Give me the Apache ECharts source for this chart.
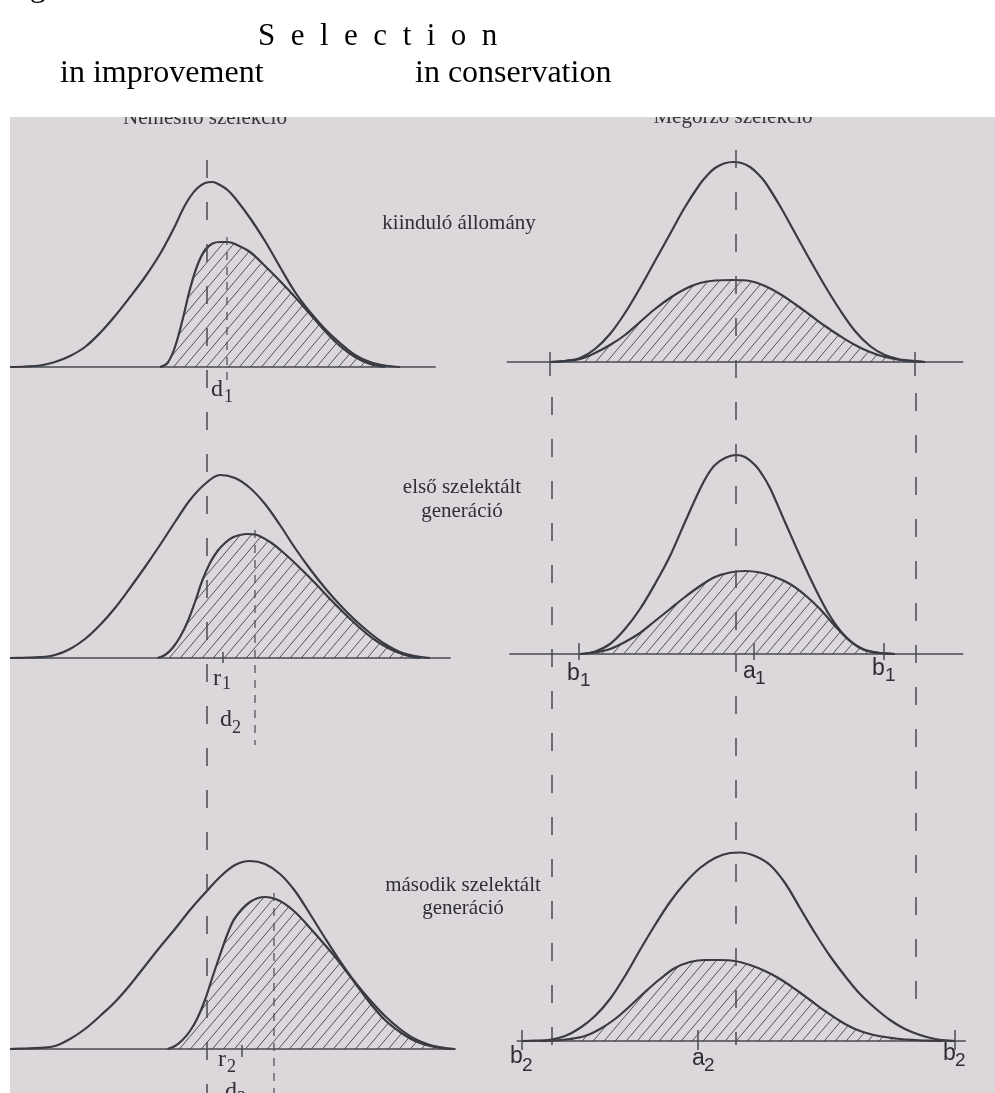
<!DOCTYPE html>
<html>
<head>
<meta charset="utf-8">
<script src="https://cdn.jsdelivr.net/npm/echarts@6/dist/echarts.min.js"></script>
<style>
html, body { margin: 0; padding: 0; background: #fff; }
#chart { width: 995px; height: 1093px; }
</style>
</head>
<body>
<div id="chart"></div>
<script>
// x: trait value in units (5 px each), y: frequency (px above the baseline)
// left column = "Nemesítő szelekció", right column = "Megőrző szelekció"

var l1Outer = [[0,0],[3,0.5],[6,1.5],[9,5],[12,11],[15,20],[18,34],[21,51],[24,70],[27,90],[30,113],[33,141],[34.5,157],[36,170],[37.5,179],[39,184],[40.5,185],[42,182],[43.5,177],[45,169],[48,149],[51,126],[54,100],[57,75],[60,55],[63,38],[66,24],[69,12],[72,5],[75,1.5],[78,0]];
var l1Inner = [[30,0],[31.5,4],[33,20],[34.5,47],[36,78],[37.5,102],[39,117],[40.5,123.5],[42,125],[43.5,125],[45,123],[48,115],[51,101],[54,86],[57,70],[60,53],[63,36],[66,21],[69,10],[72,3],[75,0]];

var l2Outer = [[0,0],[3,0.3],[6,0.8],[9,3],[12,9],[15,19],[18,33],[21,50],[24,70],[27,91],[30,113],[33,136],[36,158],[39,174],[42,183],[45,180],[48,170],[51,154],[54,133],[57,110],[60,89],[63,70],[66,53],[69,38],[72,25],[75,14],[78,6],[81,2],[84,0]];
var l2Inner = [[29.5,0],[31,3],[32.5,10],[34,21],[35.5,36],[37,56],[38.5,78],[40,95],[41.5,107],[43,115],[44.5,120.5],[46,123],[47.5,124],[49,123.5],[52,116],[55,104],[58,90],[61,75],[64,59],[67,44],[70,30],[73,18],[76,9],[79,3],[82,0]];

var l3Outer = [[0,0],[3,0.5],[6,1.2],[9,3],[12,10],[15,20],[18,33],[21,47],[24,64],[27,83],[30,102],[33,120],[36,139],[39,156],[42,172],[45,184],[48,188],[51,185],[54,175],[57,158],[60,135],[63,111],[66,88],[69,67],[72,49],[75,33],[78,20],[81,10],[84,4],[87,1],[89,0]];
var l3Inner = [[31.5,0],[33,3],[34.5,9],[36,18],[37.5,31],[39,49],[40.5,72],[42,94],[43.5,115],[45,131],[48,147],[51,152],[54,148],[57,137],[60,121],[63,104],[66,86],[69,66],[72,46],[75,29],[78,17],[81,8],[84,3],[87,0.5],[88.5,0]];

var r1Outer = [[10,0],[13,1],[16,4],[19,13],[22,28],[25,49],[28,74],[31,101],[34,128],[37,155],[40,178],[41.5,187],[43,194],[44.8,198.5],[46.6,200],[48.3,199],[50,195],[51.5,188.5],[53,180],[56,156],[59,129],[62,102],[65,76],[68,52],[71,31],[74,16],[77,7],[80,2.5],[83,1],[85,0]];
var r1Inner = [[10,0],[13,1],[16,3],[19,9],[22,17],[25,27],[28,40],[31,53],[34,64],[37,73],[40,79],[43,81.5],[46.6,82],[50,81],[53,76],[56,68],[59,58],[62,47],[65,36],[68,26],[71,17],[74,10],[77,5],[80,2],[83,0.5],[85,0]];

var r2Outer = [[16,0],[19,2.5],[22,10],[25,25],[28,45],[31,70],[34,98],[37,132],[40,165],[41.5,179],[43,189],[45,196],[47.2,199],[49,197],[51,189],[52.5,179],[54,166],[57,132],[60,98],[63,66],[66,38],[69,18],[72,6],[75,1.5],[78,0.3],[79,0]];
var r2Inner = [[16,0],[19,1.5],[22,5],[25,12],[28,21],[31,33],[34,45],[37,57],[40,68],[43,77],[46,81.5],[49,83],[52,81.5],[55,77],[58,70],[61,59],[64,45],[67,28],[70,13],[73,4],[76,1],[79,0]];

var r3Outer = [[4.4,0],[7,0.3],[10,1.2],[13,5],[16,13],[19,25],[22,42],[25,65],[28,91],[31,116],[34,139],[37,158],[40,173],[43,183],[46,188],[48,188.5],[51,185],[54,176],[57,158],[60,133],[63,108],[66,85],[69,65],[72,47],[75,33],[78,21],[81,12],[84,6],[87,2],[90,0.3],[91,0]];
var r3Inner = [[8,0],[11,0.5],[14,2],[17,5],[20,12],[23,22],[26,35],[29,49],[32,62],[35,73],[38,79],[41,81],[44,81],[47,80],[50,76],[53,70],[56,62],[59,52],[62,41],[65,30],[68,20],[71,12],[74,7],[77,4],[80,2],[83,1],[86,0.3],[88.6,0]];

// axis spans (units) of each baseline
var axisRanges = [[0,85],[0,88],[0,89],[1.5,92.5],[2,92.5],[3.5,93]];

// marked positions (units)
var leftMeans = [39.4, 43.4, 49, 52.8];      // original mean, d1, d2, d3
var leftTicks = [42.6, 46.4];                // r1, r2
var rightMarks = [10.4, 47.2, 83.2];         // b, a, b of the original
var r1Ticks = [10, 83];
var r2Ticks = [15.8, 50.8, 76.8];
var r3Ticks = [4.4, 39.6, 91];

var UNIT = 5, YMAX = 210;
var colOrigin = [10, 500];
var baselines = [367, 658, 1049, 362, 654, 1041];
var curveColor = '#3a3a42';
var guideColor = '#4a4a52';

function hatch() {
  var w = 11, h = 13;
  var c = document.createElement('canvas');
  c.width = w; c.height = h;
  var g = c.getContext('2d');
  g.strokeStyle = 'rgba(58,58,66,0.85)';
  g.lineWidth = 1;
  for (var k = -1; k <= 1; k++) {
    g.beginPath();
    g.moveTo(k * w, h);
    g.lineTo(k * w + w, 0);
    g.stroke();
  }
  return c;
}
var pattern = { image: hatch(), repeat: 'repeat' };

var curves = [
  [l1Outer, l1Inner], [l2Outer, l2Inner], [l3Outer, l3Inner],
  [r1Outer, r1Inner], [r2Outer, r2Inner], [r3Outer, r3Inner]
];

var grids = [], xAxes = [], yAxes = [], series = [];
curves.forEach(function (c, i) {
  var col = i < 3 ? 0 : 1;
  var rg = axisRanges[i];
  grids.push({
    left: colOrigin[col] + rg[0] * UNIT,
    width: (rg[1] - rg[0]) * UNIT,
    top: baselines[i] - YMAX,
    height: YMAX
  });
  xAxes.push({
    type: 'value', gridIndex: i, min: rg[0], max: rg[1],
    axisLine: { show: true, onZero: false, lineStyle: { color: '#6c6c74', width: 2 } },
    axisTick: { show: false }, axisLabel: { show: false }, splitLine: { show: false }
  });
  yAxes.push({ type: 'value', gridIndex: i, min: 0, max: YMAX, show: false });
  series.push({
    type: 'line', xAxisIndex: i, yAxisIndex: i, data: c[1],
    smooth: 0.35, symbol: 'none', silent: true, z: 2,
    lineStyle: { color: curveColor, width: 2.2 },
    areaStyle: { color: pattern, opacity: 1 }
  });
  series.push({
    type: 'line', xAxisIndex: i, yAxisIndex: i, data: c[0],
    smooth: 0.35, symbol: 'none', silent: true, z: 3,
    lineStyle: { color: curveColor, width: 2.2 }
  });
});

var chart = echarts.init(document.getElementById('chart'));
chart.setOption({
  animation: false,
  backgroundColor: '#dcd7db',
  grid: grids,
  xAxis: xAxes,
  yAxis: yAxes,
  series: series
});

function xpx(axis, u) {
  return chart.convertToPixel({ xAxisIndex: axis }, u);
}
function vline(axis, u, y1, y2, dash, w) {
  var x = xpx(axis, u);
  return {
    type: 'line', z: 20, silent: true,
    shape: { x1: x, y1: y1, x2: x, y2: y2 },
    style: { stroke: guideColor, lineWidth: w || 1.5, lineDash: dash || null }
  };
}
function text(x, y, s, font, align, color, z) {
  return {
    type: 'text', x: x, y: y, z: z || 20, silent: true,
    style: {
      text: s, font: font, fill: color || '#2e2e34',
      align: align || 'left', textAlign: align || 'left',
      verticalAlign: 'middle', textVerticalAlign: 'middle'
    }
  };
}
function subLabel(x, y, main, sub, family, size, subSize, subX, subY) {
  return [
    text(x, y, main, size + 'px ' + family),
    text(subX, subY, sub, subSize + 'px ' + family)
  ];
}

var SERIF = '"Liberation Serif", "Times New Roman", serif';
var SANS = '"Liberation Sans", Arial, sans-serif';
var longDash = [18, 24], shortDash = [8, 7];

var g = [];
// header texts, clipped by the white page above the scan
g.push(text(205, 118, 'Nemesítő szelekció', '21px ' + SERIF, 'center', '#34343a', 18));
g.push(text(733, 117, 'Megőrző szelekció', '21px ' + SERIF, 'center', '#34343a', 18));
g.push({ type: 'rect', z: 19, silent: true, shape: { x: 0, y: 0, width: 995, height: 117 }, style: { fill: '#ffffff' } });
g.push({ type: 'rect', z: 19, silent: true, shape: { x: 0, y: 117, width: 10, height: 976 }, style: { fill: '#ffffff' } });

// page titles
g.push(text(3, -12, 'Fig.', '32px ' + SERIF, 'left', '#000', 22));
g.push(text(258, 37, 'S  e  l  e  c  t  i  o  n', '31px ' + SERIF, 'left', '#000', 22));
g.push(text(60, 74, 'in improvement', '32px ' + SERIF, 'left', '#000', 22));
g.push(text(415, 74, 'in conservation', '32px ' + SERIF, 'left', '#000', 22));

// row captions
g.push(text(459, 223, 'kiinduló állomány', '21px ' + SERIF, 'center'));
g.push(text(462, 487, 'első szelektált', '21px ' + SERIF, 'center'));
g.push(text(462, 511, 'generáció', '21px ' + SERIF, 'center'));
g.push(text(463, 885, 'második szelektált', '21px ' + SERIF, 'center'));
g.push(text(463, 908, 'generáció', '21px ' + SERIF, 'center'));

// left column guides
g.push(vline(0, leftMeans[0], 160, 1093, longDash));
g.push(vline(0, leftMeans[1], 237, 380, shortDash, 1.2));
g.push(vline(1, leftMeans[2], 530, 745, shortDash, 1.2));
g.push(vline(2, leftMeans[3], 893, 1093, shortDash, 1.2));
g.push(vline(1, leftTicks[0], 652, 663));
g.push(vline(2, leftTicks[1], 1045, 1057));

// right column guides
g.push(vline(3, rightMarks[1], 150, 1045, longDash));
g.push(vline(3, rightMarks[0], 397, 1053, longDash));
g.push(vline(3, rightMarks[2], 393, 1023, longDash));
r1Ticks.forEach(function (u) { g.push(vline(3, u, 352, 376)); });
r2Ticks.forEach(function (u) { g.push(vline(4, u, 643, 660)); });
r3Ticks.forEach(function (u) { g.push(vline(5, u, 1030, 1050)); });

// mark labels
g = g.concat(subLabel(211, 390, 'd', '1', SERIF, 24, 18, 224, 397));
g = g.concat(subLabel(213, 679, 'r', '1', SERIF, 24, 18, 222, 684));
g = g.concat(subLabel(220, 720, 'd', '2', SERIF, 24, 18, 232, 728));
g = g.concat(subLabel(218, 1060, 'r', '2', SERIF, 24, 18, 227, 1067));
g = g.concat(subLabel(225, 1092, 'd', '3', SERIF, 24, 18, 237, 1099));

g = g.concat(subLabel(567, 674, 'b', '1', SANS, 23, 19, 580, 681));
g = g.concat(subLabel(743, 672, 'a', '1', SANS, 23, 19, 755, 679));
g = g.concat(subLabel(872, 669, 'b', '1', SANS, 23, 19, 885, 676));
g = g.concat(subLabel(510, 1057, 'b', '2', SANS, 23, 19, 522, 1066));
g = g.concat(subLabel(692, 1059, 'a', '2', SANS, 23, 19, 704, 1066));
g = g.concat(subLabel(943, 1054, 'b', '2', SANS, 23, 19, 955, 1061));

chart.setOption({ graphic: { elements: g } });
</script>
</body>
</html>
